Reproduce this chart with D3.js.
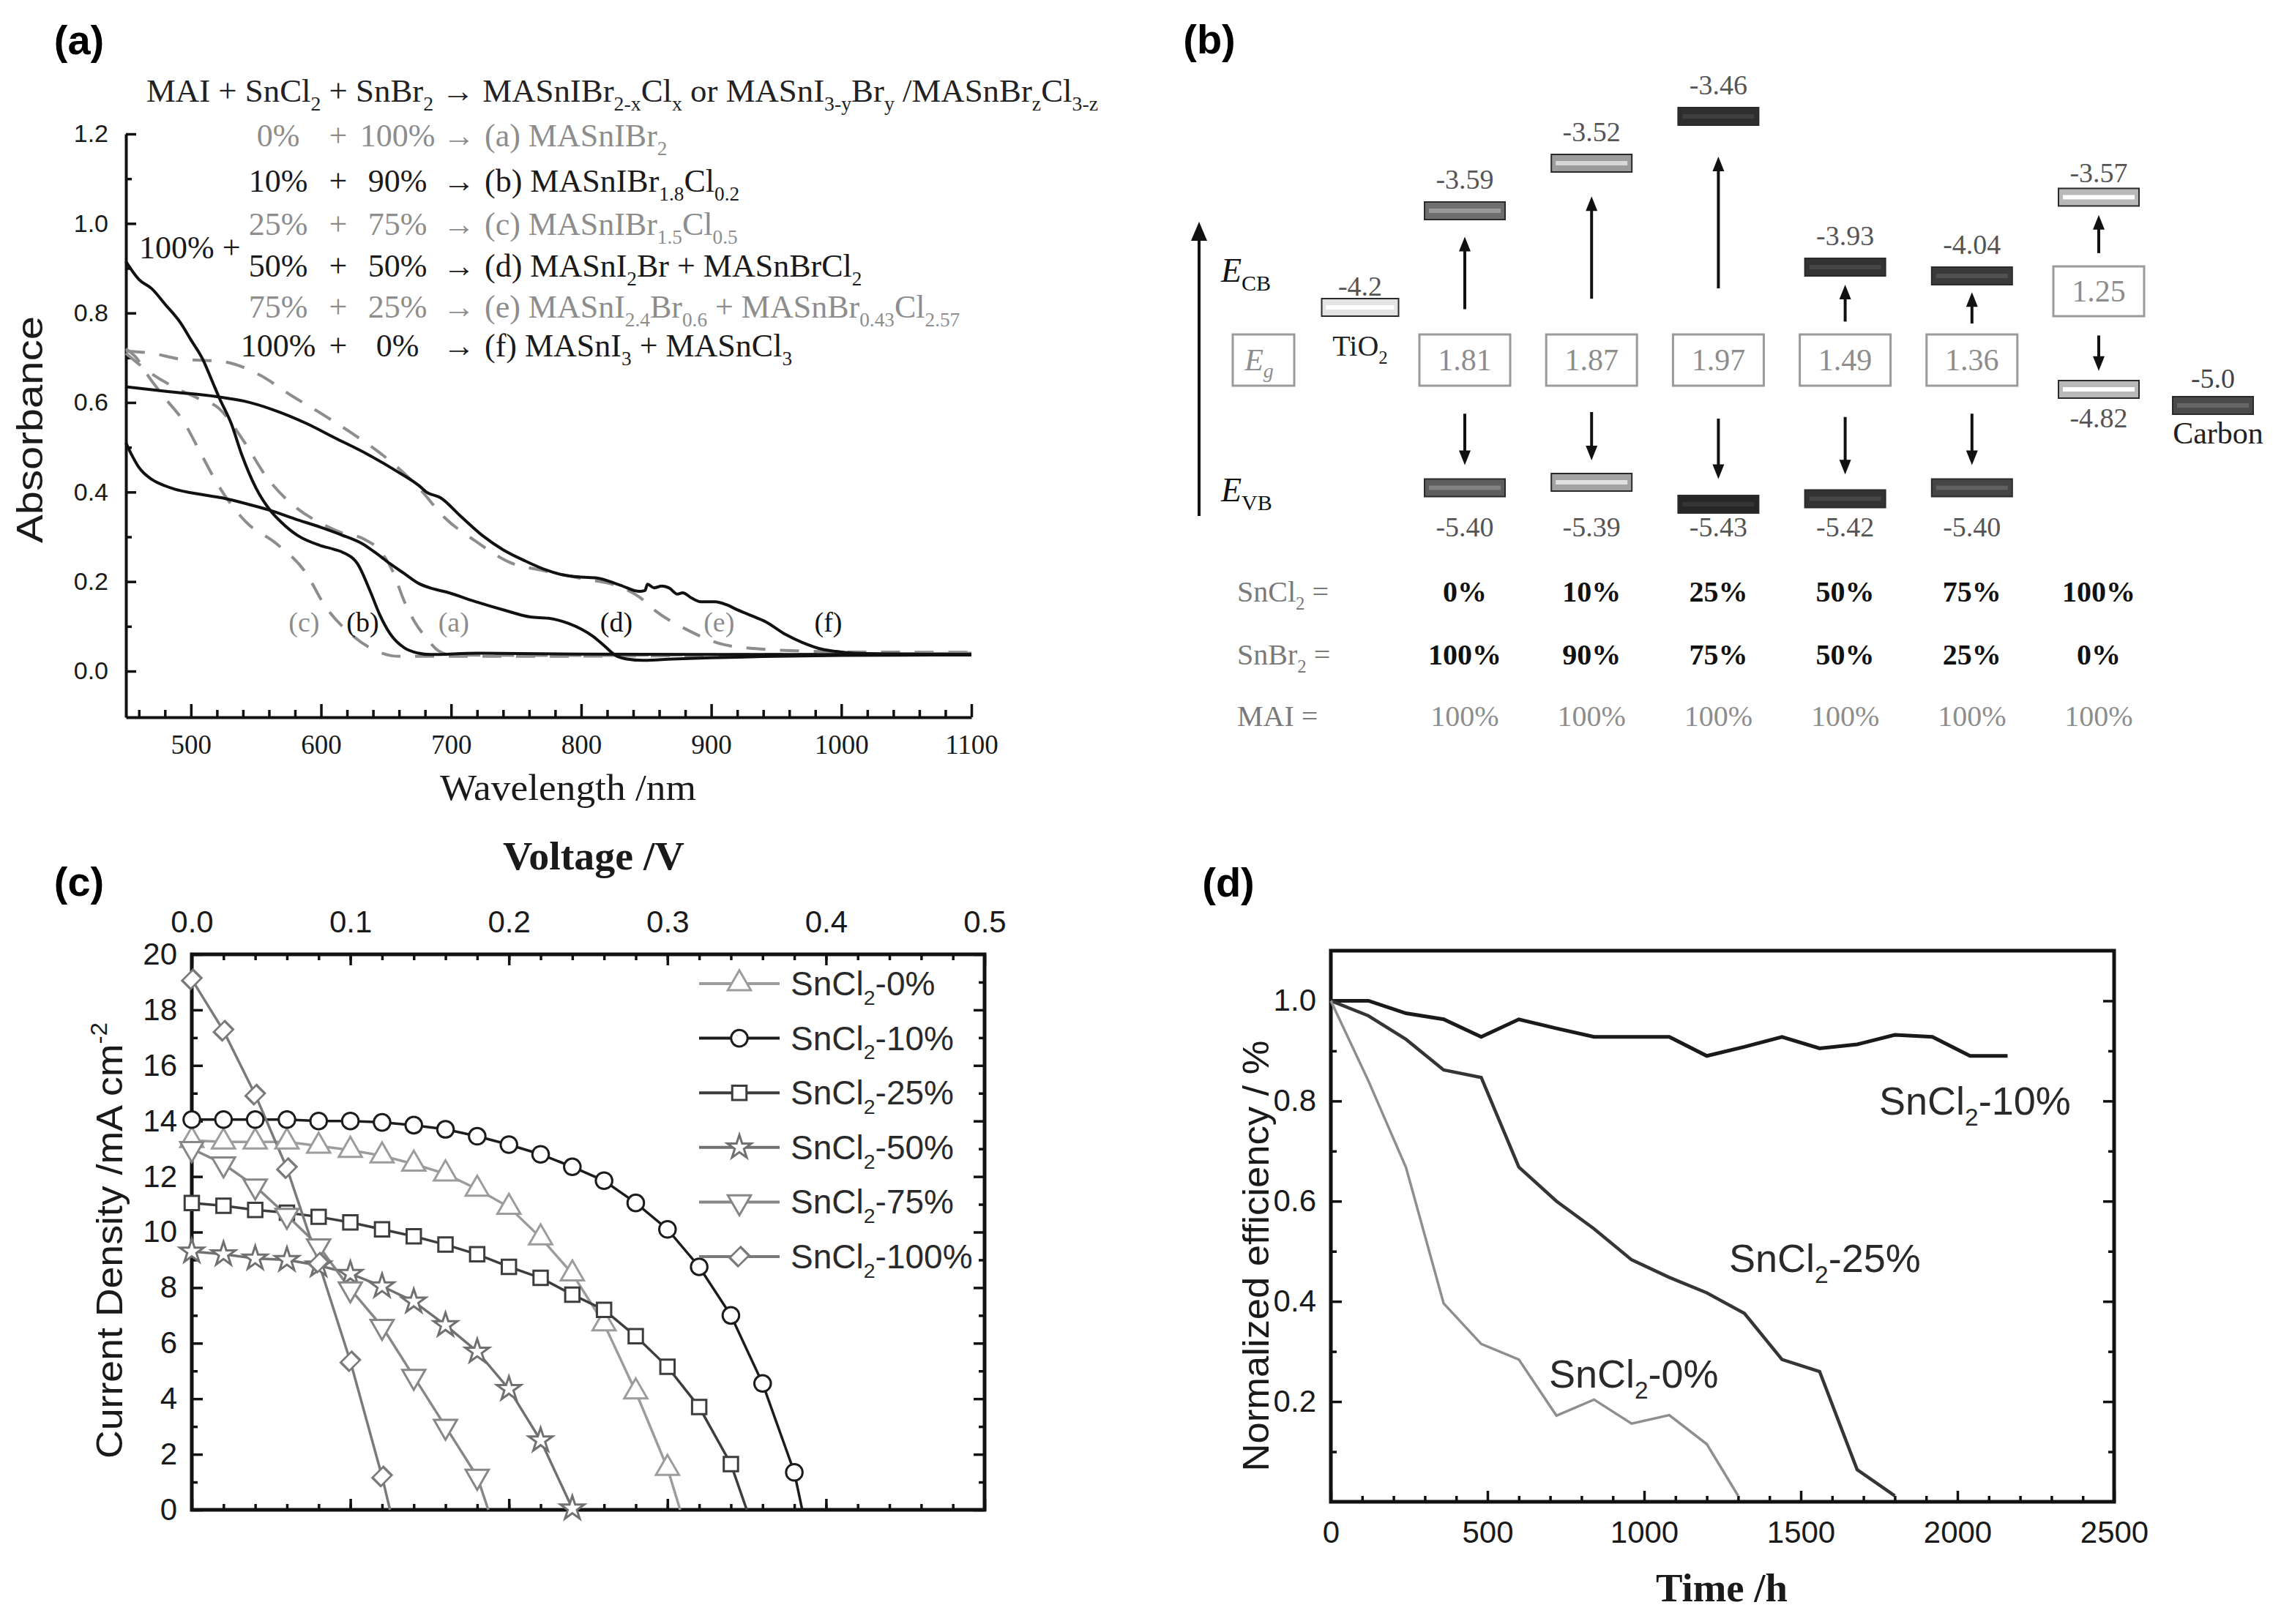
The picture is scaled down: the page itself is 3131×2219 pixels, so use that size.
<!DOCTYPE html>
<html>
<head>
<meta charset="utf-8">
<script src="https://d3js.org/d3.v7.min.js"></script>
<style>
  body { margin: 0; background: #fff; }
</style>
</head>
<body>
<script>
// ---------- panel (a): absorbance spectra, [wavelength nm, absorbance] ----------
const specA = [[450,0.71],[467,0.67],[490,0.63],[505,0.61],[521,0.588],[541,0.512],[558,0.434],[578,0.372],[600,0.33],[615,0.31],[633,0.295],[645,0.27],[655,0.224],[664,0.156],[672,0.11],[681,0.074],[690,0.046],[700,0.036],[800,0.035],[900,0.037],[1000,0.038],[1100,0.04]];
const specB = [[450,0.915],[460,0.875],[470,0.854],[480,0.82],[492,0.778],[500,0.74],[509,0.697],[516,0.65],[522,0.609],[531,0.553],[539,0.484],[550,0.409],[561,0.359],[569,0.334],[582,0.303],[599,0.281],[610,0.272],[617,0.265],[628,0.24],[638,0.177],[645,0.127],[653,0.084],[664,0.052],[675,0.04],[684,0.037],[720,0.04],[800,0.038],[900,0.037],[1000,0.037],[1100,0.037]];
const specC = [[450,0.72],[458,0.70],[467,0.66],[480,0.61],[494,0.559],[508,0.484],[521,0.415],[542,0.334],[566,0.284],[588,0.221],[603,0.146],[624,0.08],[647,0.04],[660,0.033],[750,0.033],[850,0.034],[1000,0.036],[1100,0.038]];
const specD = [[450,0.51],[455,0.48],[460,0.455],[470,0.428],[480,0.414],[488,0.406],[505,0.396],[524,0.387],[545,0.372],[561,0.359],[580,0.34],[600,0.321],[616,0.304],[632,0.284],[643,0.262],[653,0.24],[664,0.218],[675,0.196],[686,0.184],[696,0.177],[718,0.156],[740,0.137],[761,0.121],[775,0.118],[790,0.107],[800,0.094],[809,0.078],[818,0.056],[826,0.036],[835,0.027],[848,0.024],[870,0.027],[900,0.03],[950,0.033],[1000,0.035],[1100,0.036]];
const specE = [[450,0.715],[470,0.71],[492,0.697],[523,0.692],[552,0.663],[577,0.616],[602,0.572],[627,0.525],[652,0.472],[675,0.41],[695,0.343],[719,0.29],[745,0.243],[770,0.225],[800,0.207],[830,0.188],[845,0.165],[856,0.137],[881,0.093],[910,0.059],[940,0.049],[970,0.045],[1000,0.043],[1100,0.042]];
const specF = [[450,0.635],[481,0.625],[520,0.613],[541,0.603],[563,0.584],[589,0.553],[610,0.522],[636,0.484],[658,0.447],[675,0.415],[681,0.40],[692,0.387],[707,0.347],[724,0.303],[740,0.271],[757,0.246],[772,0.227],[786,0.215],[800,0.21],[812,0.208],[830,0.192],[845,0.178],[849,0.18],[851,0.194],[856,0.186],[862,0.19],[868,0.185],[874,0.172],[878,0.175],[885,0.163],[892,0.155],[903,0.155],[912,0.148],[920,0.137],[930,0.125],[942,0.11],[957,0.082],[970,0.064],[985,0.049],[996,0.044],[1010,0.04],[1050,0.038],[1100,0.037]];
const specLabels = ["(a)","(b)","(c)","(d)","(e)","(f)"];
const specLabelWl = [702, 632, 587, 827, 906, 990];
const specLabelAbs = 0.11;

const rxnTitle = "MAI + SnCl_{2} + SnBr_{2} → MASnIBr_{2-x}Cl_{x} or MASnI_{3-y}Br_{y} /MASnBr_{z}Cl_{3-z}";
const rxnSnCl2 = ["0%","10%","25%","50%","75%","100%"];
const rxnSnBr2 = ["100%","90%","75%","50%","25%","0%"];
const rxnProducts = ["(a) MASnIBr_{2}", "(b) MASnIBr_{1.8}Cl_{0.2}", "(c) MASnIBr_{1.5}Cl_{0.5}",
  "(d) MASnI_{2}Br + MASnBrCl_{2}", "(e) MASnI_{2.4}Br_{0.6} + MASnBr_{0.43}Cl_{2.57}", "(f) MASnI_{3} + MASnCl_{3}"];

// ---------- panel (b): band diagram ----------
const compSnCl2 = ["0%","10%","25%","50%","75%","100%"];
const compSnBr2 = ["100%","90%","75%","50%","25%","0%"];
const compMAI = ["100%","100%","100%","100%","100%","100%"];
const cbEnergy = [-3.59, -3.52, -3.46, -3.93, -4.04, -3.57];
const vbEnergy = [-5.40, -5.39, -5.43, -5.42, -5.40, -4.82];
const bandGap = [1.81, 1.87, 1.97, 1.49, 1.36, 1.25];
const tio2Energy = -4.2;
const carbonEnergy = -5.0;

// ---------- panel (c): J-V curves, [V, mA cm-2] ----------
const jvNames = ["SnCl_{2}-0%","SnCl_{2}-10%","SnCl_{2}-25%","SnCl_{2}-50%","SnCl_{2}-75%","SnCl_{2}-100%"];
const jv0 = [[0,13.3],[0.02,13.25],[0.04,13.25],[0.06,13.25],[0.08,13.1],[0.10,12.95],[0.12,12.75],[0.14,12.45],[0.16,12.1],[0.18,11.55],[0.20,10.9],[0.22,9.8],[0.24,8.5],[0.26,6.7],[0.28,4.25],[0.30,1.5],[0.308,0]];
const jv10 = [[0,14.05],[0.02,14.05],[0.04,14.05],[0.06,14.05],[0.08,14.0],[0.10,14.0],[0.12,13.95],[0.14,13.85],[0.16,13.7],[0.18,13.45],[0.20,13.15],[0.22,12.8],[0.24,12.35],[0.26,11.85],[0.28,11.05],[0.30,10.1],[0.32,8.75],[0.34,7.0],[0.36,4.55],[0.38,1.35],[0.385,0]];
const jv25 = [[0,11.05],[0.02,10.95],[0.04,10.8],[0.06,10.7],[0.08,10.55],[0.10,10.35],[0.12,10.1],[0.14,9.85],[0.16,9.55],[0.18,9.2],[0.20,8.75],[0.22,8.35],[0.24,7.75],[0.26,7.2],[0.28,6.25],[0.30,5.15],[0.32,3.7],[0.34,1.65],[0.35,0]];
const jv50 = [[0,9.3],[0.02,9.2],[0.04,9.05],[0.06,9.0],[0.08,8.8],[0.10,8.5],[0.12,8.05],[0.14,7.5],[0.16,6.65],[0.18,5.7],[0.20,4.35],[0.22,2.5],[0.24,0.05]];
const jv75 = [[0,13.0],[0.02,12.45],[0.04,11.65],[0.06,10.6],[0.08,9.5],[0.10,7.95],[0.12,6.6],[0.14,4.8],[0.16,3.0],[0.18,1.2],[0.187,0]];
const jv100 = [[0,19.1],[0.02,17.25],[0.04,14.95],[0.06,12.3],[0.08,8.9],[0.10,5.35],[0.12,1.2],[0.125,0]];

// ---------- panel (d): stability, [hours, normalized efficiency] ----------
const eff10 = [[0,1.0],[120,1.0],[240,0.975],[360,0.963],[480,0.928],[600,0.963],[720,0.945],[840,0.928],[960,0.928],[1080,0.928],[1200,0.89],[1320,0.908],[1440,0.928],[1560,0.905],[1680,0.913],[1800,0.932],[1920,0.928],[2040,0.89],[2160,0.89]];
const eff25 = [[0,1.0],[120,0.97],[240,0.923],[360,0.862],[480,0.847],[600,0.668],[720,0.60],[840,0.545],[960,0.483],[1080,0.448],[1200,0.417],[1320,0.376],[1440,0.284],[1560,0.26],[1680,0.064],[1800,0.012]];
const eff0 = [[0,1.0],[120,0.84],[240,0.667],[360,0.396],[480,0.315],[600,0.284],[720,0.172],[840,0.204],[960,0.156],[1080,0.173],[1200,0.115],[1300,0.012]];
const effNames = ["SnCl_{2}-10%","SnCl_{2}-25%","SnCl_{2}-0%"];
const effLabelPos = [[1750,0.80],[1271,0.486],[696,0.256]];

const SERIF = "'Liberation Serif', 'Times New Roman', serif";
const SANS = "'Liberation Sans', Arial, sans-serif";

const svg = d3.select("body").append("svg")
  .attr("width", 3131).attr("height", 2219)
  .attr("font-family", SANS)
  .style("background", "#fff");

// text with _{sub} and ^{sup}
function rich(sel, s, size) {
  const parts = s.split(/(_\{[^}]*\}|\^\{[^}]*\})/).filter(p => p.length);
  let shift = 0;
  parts.forEach(p => {
    let t = p, target = 0, small = false;
    if (p.startsWith("_{")) { t = p.slice(2, -1); target = size * 0.28; small = true; }
    else if (p.startsWith("^{")) { t = p.slice(2, -1); target = -size * 0.42; small = true; }
    const ts = sel.append("tspan").attr("dy", target - shift).text(t);
    if (small) ts.attr("font-size", size * 0.62);
    shift = target;
  });
  return sel;
}
function fit(sel, w) {
  return sel.attr("textLength", w).attr("lengthAdjust", "spacingAndGlyphs");
}
function styleAxis(g, fs, family, width) {
  g.select(".domain").attr("stroke", "#111").attr("stroke-width", width);
  g.selectAll(".tick line").attr("stroke", "#111").attr("stroke-width", 3.5);
  g.selectAll("text").attr("font-size", fs).attr("font-family", family).attr("fill", "#1a1a1a");
}

// panel letters
[["(a)",108,74],["(b)",1652,73],["(c)",108,1224],["(d)",1678,1225]].forEach(([t,x,y]) => {
  svg.append("text").attr("x", x).attr("y", y).attr("text-anchor", "middle")
    .attr("font-size", 56).attr("font-weight", "bold").attr("font-family", SANS).text(t);
});

// ================= panel (a) =================
{
  const g = svg.append("g");
  const x = d3.scaleLinear().domain([450, 1100]).range([172, 1327]);
  const y = d3.scaleLinear().domain([-0.103, 1.2]).range([980, 183]);

  const xa = g.append("g").attr("transform", "translate(0,980)")
    .call(d3.axisBottom(x).tickValues(d3.range(500, 1101, 100)).tickSize(-18).tickSizeOuter(0).tickPadding(24).tickFormat(d3.format("d")));
  styleAxis(xa, 37, SERIF, 4);
  const xm = g.append("g").attr("transform", "translate(0,980)")
    .call(d3.axisBottom(x).tickValues(d3.range(460, 1100, 20).filter(v => v % 100)).tickSize(-10).tickFormat(""));
  xm.select(".domain").remove();
  styleAxis(xm, 0, SERIF, 0);

  const ya = g.append("g").attr("transform", "translate(172,0)")
    .call(d3.axisLeft(y).tickValues(d3.range(0, 1.21, 0.2)).tickSize(-14).tickSizeOuter(0).tickPadding(24).tickFormat(d3.format(".1f")));
  styleAxis(ya, 34, SANS, 4);
  const ym = g.append("g").attr("transform", "translate(172,0)")
    .call(d3.axisLeft(y).tickValues(d3.range(0.1, 1.2, 0.2)).tickSize(-8).tickFormat(""));
  ym.select(".domain").remove();
  styleAxis(ym, 0, SANS, 0);

  const line = d3.line().x(d => x(d[0])).y(d => y(d[1])).curve(d3.curveMonotoneX);
  [specA, specC, specE].forEach(s => {
    g.append("path").attr("d", line(s)).attr("fill", "none")
      .attr("stroke", "#8d8d8d").attr("stroke-width", 4).attr("stroke-dasharray", "26,20");
  });
  [specB, specD, specF].forEach(s => {
    g.append("path").attr("d", line(s)).attr("fill", "none")
      .attr("stroke", "#111").attr("stroke-width", 4);
  });

  specLabels.forEach((t, i) => {
    g.append("text").attr("x", x(specLabelWl[i])).attr("y", y(specLabelAbs) + 13)
      .attr("text-anchor", "middle").attr("font-family", SERIF).attr("font-size", 38)
      .attr("fill", i % 2 === 0 ? "#8d8d8d" : "#111").text(t);
  });

  fit(g.append("text").attr("x", 776).attr("y", 1093).attr("text-anchor", "middle")
    .attr("font-family", SERIF).attr("font-size", 50).attr("fill", "#1a1a1a").text("Wavelength /nm"), 350);
  fit(g.append("text").attr("transform", "translate(58,587) rotate(-90)").attr("text-anchor", "middle")
    .attr("font-family", SANS).attr("font-size", 50).attr("fill", "#1a1a1a").text("Absorbance"), 310);

  // reaction scheme
  fit(rich(g.append("text").attr("x", 200).attr("y", 139).attr("font-family", SERIF)
    .attr("font-size", 44).attr("fill", "#222"), rxnTitle, 44), 1300);
  const rowBase = [200, 262, 321, 378, 434, 487];
  rxnSnCl2.forEach((p, i) => {
    const col = i % 2 === 0 ? "#8d8d8d" : "#1a1a1a";
    const t = (xx, anchor, s) => g.append("text").attr("x", xx).attr("y", rowBase[i])
      .attr("text-anchor", anchor).attr("font-family", SERIF).attr("font-size", 44).attr("fill", col).text(s);
    t(380, "middle", p);
    t(462, "middle", "+");
    t(543, "middle", rxnSnBr2[i]);
    t(627, "middle", "→");
    rich(g.append("text").attr("x", 662).attr("y", rowBase[i]).attr("font-family", SERIF)
      .attr("font-size", 44).attr("fill", col), rxnProducts[i], 44);
  });
  g.append("text").attr("x", 190).attr("y", 353).attr("font-family", SERIF)
    .attr("font-size", 44).attr("fill", "#1a1a1a").text("100% +");
}

// ================= panel (b) =================
{
  const g = svg.append("g");
  // schematic (not to scale) energy axis
  const ey = d3.scaleLinear()
    .domain([-3.46, -3.52, -3.59, -3.93, -4.04, -4.2, -4.82, -5.0, -5.39, -5.43])
    .range([159, 223, 288, 365, 377, 420, 532, 554, 659, 689]);
  const cx = d3.scalePoint().domain(d3.range(6)).range([2001, 2867]);
  const cbShade = ["#6e6e6e", "#9c9c9c", "#2e2e2e", "#333333", "#3a3a3a", "#b8b8b8"];
  const vbShade = ["#5e5e5e", "#a3a3a3", "#262626", "#333333", "#454545", "#b8b8b8"];
  const BW = 110, BH = 24;

  function level(xc, yc, shade, w) {
    g.append("rect").attr("x", xc - w / 2).attr("y", yc - BH / 2).attr("width", w).attr("height", BH)
      .attr("fill", shade).attr("stroke", "#2a2a2a").attr("stroke-width", 2);
    g.append("rect").attr("x", xc - w / 2 + 6).attr("y", yc - 3).attr("width", w - 12).attr("height", 6)
      .attr("fill", d3.color(shade).brighter(0.9));
  }
  function varrow(xc, y0, y1, hw, hl, sw) {
    const dir = y1 < y0 ? -1 : 1;
    g.append("line").attr("x1", xc).attr("x2", xc).attr("y1", y0).attr("y2", y1 - dir * hl * 0.7)
      .attr("stroke", "#111").attr("stroke-width", sw);
    g.append("path").attr("d", `M${xc},${y1} L${xc - hw},${y1 - dir * hl} L${xc + hw},${y1 - dir * hl} Z`).attr("fill", "#111");
  }
  function label(xc, yb, s, size, fill, weight, family, anchor) {
    return rich(g.append("text").attr("x", xc).attr("y", yb).attr("text-anchor", anchor || "middle")
      .attr("font-family", family || SERIF).attr("font-size", size).attr("fill", fill)
      .attr("font-weight", weight || "normal"), s, size);
  }

  // energy axis arrow
  varrow(1638, 705, 303, 11, 26, 4);
  label(1668, 385, "", 46, "#111", "normal", SERIF, "start")
    .call(t => { t.append("tspan").attr("font-style", "italic").text("E"); t.append("tspan").attr("dy", 12).attr("font-size", 30).text("CB"); });
  label(1668, 685, "", 46, "#111", "normal", SERIF, "start")
    .call(t => { t.append("tspan").attr("font-style", "italic").text("E"); t.append("tspan").attr("dy", 12).attr("font-size", 30).text("VB"); });
  g.append("rect").attr("x", 1684).attr("y", 457).attr("width", 84).attr("height", 70)
    .attr("fill", "#fff").attr("stroke", "#9a9a9a").attr("stroke-width", 3);
  label(1720, 506, "", 42, "#8d8d8d", "normal", SERIF)
    .call(t => { t.append("tspan").attr("font-style", "italic").text("E"); t.append("tspan").attr("dy", 10).attr("font-size", 28).attr("font-style", "italic").text("g"); });

  // TiO2 and carbon
  level(1858, ey(tio2Energy), "#e4e4e4", 105);
  label(1858, ey(tio2Energy) - 16, String(tio2Energy), 38, "#555");
  label(1858, ey(tio2Energy) + 66, "TiO_{2}", 40, "#222");
  level(3023, ey(carbonEnergy), "#4a4a4a", 110);
  label(3023, ey(carbonEnergy) - 24, carbonEnergy.toFixed(1), 38, "#444");
  label(3030, ey(carbonEnergy) + 52, "Carbon", 42, "#222");

  cbEnergy.forEach((cb, i) => {
    const xc = cx(i), ycb = ey(cb), yvb = ey(vbEnergy[i]);
    const last = i === 5;
    const boxTop = last ? 364 : 457, boxBot = last ? 432 : 527;
    level(xc, ycb, cbShade[i], BW);
    level(xc, yvb, vbShade[i], BW);
    label(xc, ycb - (last ? 20 : 30), cb.toFixed(2), 38, "#555");
    label(xc, last ? yvb + 52 : 733, vbEnergy[i].toFixed(2), 38, "#555");
    g.append("rect").attr("x", xc - 62).attr("y", boxTop).attr("width", 124).attr("height", boxBot - boxTop)
      .attr("fill", "#fff").attr("stroke", "#9a9a9a").attr("stroke-width", 3);
    label(xc, (boxTop + boxBot) / 2 + 14, bandGap[i].toFixed(2), 42, "#8d8d8d");
    const upGap = boxTop - (ycb + BH / 2);
    varrow(xc, boxTop - 0.22 * upGap, ycb + BH / 2 + 0.15 * upGap, 8, 20, 4);
    const dnGap = (yvb - BH / 2) - boxBot;
    varrow(xc, boxBot + 0.3 * dnGap, yvb - BH / 2 - 0.15 * dnGap, 8, 20, 4);
  });

  // composition table
  const rows = [["SnCl_{2} =", compSnCl2, 822, "bold", "#111"], ["SnBr_{2} =", compSnBr2, 908, "bold", "#111"], ["MAI =", compMAI, 992, "normal", "#8d8d8d"]];
  rows.forEach(([name, vals, yb, wt, col]) => {
    label(1690, yb, name, 40, "#7a7a7a", "normal", SERIF, "start");
    vals.forEach((v, i) => label(cx(i), yb, v, 40, col, wt));
  });
}

// ================= panel (c) =================
{
  const g = svg.append("g");
  const x = d3.scaleLinear().domain([0, 0.5]).range([262, 1345]);
  const y = d3.scaleLinear().domain([0, 20]).range([2063, 1304]);

  const top = g.append("g").attr("transform", "translate(0,1304)")
    .call(d3.axisTop(x).tickValues(d3.range(0, 0.51, 0.1)).tickSize(-15).tickPadding(30).tickFormat(d3.format(".1f")));
  const topm = g.append("g").attr("transform", "translate(0,1304)")
    .call(d3.axisTop(x).tickValues(d3.range(0.02, 0.5, 0.02)).tickSize(-8).tickFormat(""));
  const bot = g.append("g").attr("transform", "translate(0,2063)")
    .call(d3.axisBottom(x).tickValues(d3.range(0, 0.51, 0.1)).tickSize(-15).tickFormat(""));
  const botm = g.append("g").attr("transform", "translate(0,2063)")
    .call(d3.axisBottom(x).tickValues(d3.range(0.02, 0.5, 0.02)).tickSize(-8).tickFormat(""));
  const left = g.append("g").attr("transform", "translate(262,0)")
    .call(d3.axisLeft(y).tickValues(d3.range(0, 21, 2)).tickSize(-15).tickPadding(20));
  const leftm = g.append("g").attr("transform", "translate(262,0)")
    .call(d3.axisLeft(y).tickValues(d3.range(1, 20, 2)).tickSize(-8).tickFormat(""));
  const right = g.append("g").attr("transform", "translate(1345,0)")
    .call(d3.axisRight(y).tickValues(d3.range(0, 21, 2)).tickSize(-15).tickFormat(""));
  const rightm = g.append("g").attr("transform", "translate(1345,0)")
    .call(d3.axisRight(y).tickValues(d3.range(1, 20, 2)).tickSize(-8).tickFormat(""));
  [top, topm, bot, botm, left, leftm, right, rightm].forEach(a => { a.select(".domain").remove(); styleAxis(a, 42, SANS, 0); });
  g.append("rect").attr("x", 262).attr("y", 1304).attr("width", 1083).attr("height", 759)
    .attr("fill", "none").attr("stroke", "#111").attr("stroke-width", 5);

  const colors = ["#9c9c9c", "#1c1c1c", "#3d3d3d", "#707070", "#878787", "#7a7a7a"];
  const shapes = [
    [d3.symbolTriangle, 430, 0], [d3.symbolCircle, 400, 0], [d3.symbolSquare, 380, 0],
    [d3.symbolStar, 330, 0], [d3.symbolTriangle, 430, 180], [d3.symbolSquare, 330, 45]];
  const series = [jv0, jv10, jv25, jv50, jv75, jv100];
  const line = d3.line().x(d => x(d[0])).y(d => y(d[1]));
  const onGrid = v => Math.abs(v * 50 - Math.round(v * 50)) < 1e-6;

  function marker(gg, i, px, py) {
    const [type, size, rot] = shapes[i];
    gg.append("path").attr("d", d3.symbol(type, size)())
      .attr("transform", `translate(${px},${py}) rotate(${rot})` + (i === 5 ? " scale(0.9,1.15)" : ""))
      .attr("fill", "#fff").attr("stroke", colors[i]).attr("stroke-width", 3);
  }

  series.forEach((s, i) => {
    g.append("path").attr("d", line(s)).attr("fill", "none").attr("stroke", colors[i]).attr("stroke-width", 3.5);
  });
  series.forEach((s, i) => {
    s.filter(d => onGrid(d[0])).forEach(d => marker(g, i, x(d[0]), y(d[1])));
  });

  // legend
  const legY = d3.scalePoint().domain(d3.range(6)).range([1344, 1717]);
  jvNames.forEach((nm, i) => {
    const yy = legY(i);
    g.append("line").attr("x1", 955).attr("x2", 1065).attr("y1", yy).attr("y2", yy)
      .attr("stroke", colors[i]).attr("stroke-width", 4);
    marker(g, i, 1010, yy);
    rich(g.append("text").attr("x", 1080).attr("y", yy + 16).attr("font-size", 46)
      .attr("font-family", SANS).attr("fill", "#2a2a2a"), nm, 46);
  });

  fit(g.append("text").attr("x", 811).attr("y", 1188).attr("text-anchor", "middle")
    .attr("font-family", SERIF).attr("font-weight", "bold").attr("font-size", 54).attr("fill", "#1a1a1a").text("Voltage /V"), 248);
  fit(rich(g.append("text").attr("transform", "translate(167,1695) rotate(-90)").attr("text-anchor", "middle")
    .attr("font-family", SANS).attr("font-size", 50).attr("fill", "#1a1a1a"), "Current Density /mA cm^{-2}", 50), 596);
}

// ================= panel (d) =================
{
  const g = svg.append("g");
  const x = d3.scaleLinear().domain([0, 2500]).range([1818, 2888]);
  const y = d3.scaleLinear().domain([0, 1.1]).range([2052, 1299]);

  const bot = g.append("g").attr("transform", "translate(0,2052)")
    .call(d3.axisBottom(x).tickValues(d3.range(0, 2501, 500)).tickSize(-15).tickPadding(26).tickFormat(d3.format("d")));
  const botm = g.append("g").attr("transform", "translate(0,2052)")
    .call(d3.axisBottom(x).tickValues(d3.range(100, 2500, 100).filter(v => v % 500)).tickSize(-8).tickFormat(""));
  const left = g.append("g").attr("transform", "translate(1818,0)")
    .call(d3.axisLeft(y).tickValues([0.2, 0.4, 0.6, 0.8, 1.0]).tickSize(-15).tickPadding(20).tickFormat(d3.format(".1f")));
  const leftm = g.append("g").attr("transform", "translate(1818,0)")
    .call(d3.axisLeft(y).tickValues([0.1, 0.3, 0.5, 0.7, 0.9]).tickSize(-8).tickFormat(""));
  const right = g.append("g").attr("transform", "translate(2888,0)")
    .call(d3.axisRight(y).tickValues([0.2, 0.4, 0.6, 0.8, 1.0]).tickSize(-15).tickFormat(""));
  const rightm = g.append("g").attr("transform", "translate(2888,0)")
    .call(d3.axisRight(y).tickValues([0.1, 0.3, 0.5, 0.7, 0.9]).tickSize(-8).tickFormat(""));
  [bot, botm, left, leftm, right, rightm].forEach(a => { a.select(".domain").remove(); styleAxis(a, 42, SANS, 0); });
  g.append("rect").attr("x", 1818).attr("y", 1299).attr("width", 1070).attr("height", 753)
    .attr("fill", "none").attr("stroke", "#111").attr("stroke-width", 5);

  const line = d3.line().x(d => x(d[0])).y(d => y(d[1]));
  const dcol = ["#1a1a1a", "#353535", "#8e8e8e"];
  const dw = [5, 4.5, 3.5];
  [eff10, eff25, eff0].forEach((s, i) => {
    g.append("path").attr("d", line(s)).attr("fill", "none").attr("stroke", dcol[i]).attr("stroke-width", dw[i]);
  });
  effNames.forEach((nm, i) => {
    rich(g.append("text").attr("x", x(effLabelPos[i][0])).attr("y", y(effLabelPos[i][1]) + 19)
      .attr("font-family", SANS).attr("font-size", 54).attr("fill", "#2a2a2a"), nm, 54);
  });

  fit(g.append("text").attr("x", 2352).attr("y", 2188).attr("text-anchor", "middle")
    .attr("font-family", SERIF).attr("font-weight", "bold").attr("font-size", 54).attr("fill", "#1a1a1a").text("Time /h"), 180);
  fit(g.append("text").attr("transform", "translate(1733,1716) rotate(-90)").attr("text-anchor", "middle")
    .attr("font-family", SANS).attr("font-size", 50).attr("fill", "#1a1a1a").text("Normalized efficiency / %"), 589);
}
</script>
</body>
</html>
